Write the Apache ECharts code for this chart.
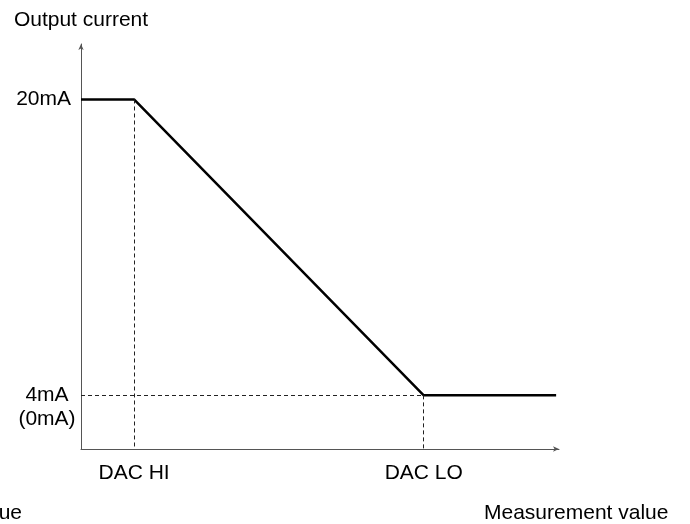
<!DOCTYPE html>
<html>
<head>
<meta charset="utf-8">
<script src="https://cdn.jsdelivr.net/npm/echarts@6/dist/echarts.min.js"></script>
<style>
  html, body { margin: 0; padding: 0; background: #fff; }
  #chart { width: 690px; height: 524px; }
</style>
</head>
<body>
<div id="chart"></div>
<script>
// Output current characteristic versus measurement value (inverted DAC range)
const xTickNames = ['DAC HI', 'DAC LO'];
const xTickValues = [11.1, 71.7];
const curveX = [0, 11.1, 71.7, 99.4];
const curveY = [20, 20, 4, 4];
const yTickValues = [4, 20];
const yTickNames = ['4mA\n(0mA)', '20mA'];

const X_MIN = 0, X_MAX = 100;
const Y_MIN = 1.1, Y_MAX = 23;

const FONT = 'Liberation Sans, Arial, sans-serif';
const FS = 21;

const chart = echarts.init(document.getElementById('chart'));

const hiX = xTickValues[0], loX = xTickValues[1];
const lowY = yTickValues[0], highY = yTickValues[1];

const arrowLine = {
  show: true,
  lineStyle: { color: '#555', width: 1 },
  symbol: ['none', 'arrow'],
  symbolSize: [4, 6]
};

chart.setOption({
  animation: false,
  backgroundColor: '#fff',
  grid: { left: 81, right: 131, top: 44, bottom: 75 },
  xAxis: {
    type: 'value',
    min: X_MIN,
    max: X_MAX,
    splitLine: { show: false },
    axisTick: { show: false },
    axisLine: arrowLine,
    axisLabel: {
      customValues: xTickValues,
      formatter: v => xTickNames[xTickValues.indexOf(v)] || '',
      margin: 14,
      color: '#000',
      fontFamily: FONT,
      fontSize: FS
    }
  },
  yAxis: {
    type: 'value',
    min: Y_MIN,
    max: Y_MAX,
    name: 'Output current',
    nameLocation: 'end',
    nameGap: 13,
    nameTextStyle: { color: '#000', fontFamily: FONT, fontSize: FS, align: 'center' },
    splitLine: { show: false },
    axisTick: { show: false },
    axisLine: arrowLine,
    axisLabel: {
      customValues: yTickValues,
      margin: 3,
      verticalAlign: 'middle',
      formatter: v => {
        const name = yTickNames[yTickValues.indexOf(v)] || '';
        const lines = name.split('\n');
        if (lines.length > 1) {
          return '{e| }\n' + lines.map(s => '{c|' + s + '}').join('\n');
        }
        return '{r|' + name + '}';
      },
      rich: {
        e: { width: 62, lineHeight: 24, fontSize: FS, fontFamily: FONT },
        c: { width: 62, align: 'center', lineHeight: 24, color: '#000', fontSize: FS, fontFamily: FONT },
        r: { width: 62, align: 'right', padding: [0, 7, 0, 0], color: '#000', fontSize: FS, fontFamily: FONT }
      }
    }
  },
  series: [{
    type: 'line',
    data: curveX.map((x, i) => [x, curveY[i]]),
    symbol: 'none',
    lineStyle: { color: '#000', width: 2.5 },
    silent: true,
    markLine: {
      silent: true,
      symbol: ['none', 'none'],
      label: { show: false },
      lineStyle: { color: '#222', width: 1, type: [4, 3] },
      data: [
        [{ coord: [hiX, highY] }, { coord: [hiX, Y_MIN] }],
        [{ coord: [loX, lowY] }, { coord: [loX, Y_MIN] }],
        [{ coord: [X_MIN, lowY] }, { coord: [loX, lowY] }]
      ]
    }
  }],
  graphic: [
    {
      type: 'text', x: 484, y: 513,
      style: { text: 'Measurement value', fill: '#000', font: FS + 'px ' + FONT, verticalAlign: 'middle' }
    },
    {
      type: 'text', x: 22, y: 513,
      style: { text: 'Measurement value', fill: '#000', font: FS + 'px ' + FONT, align: 'right', verticalAlign: 'middle' }
    }
  ]
});
</script>
</body>
</html>
